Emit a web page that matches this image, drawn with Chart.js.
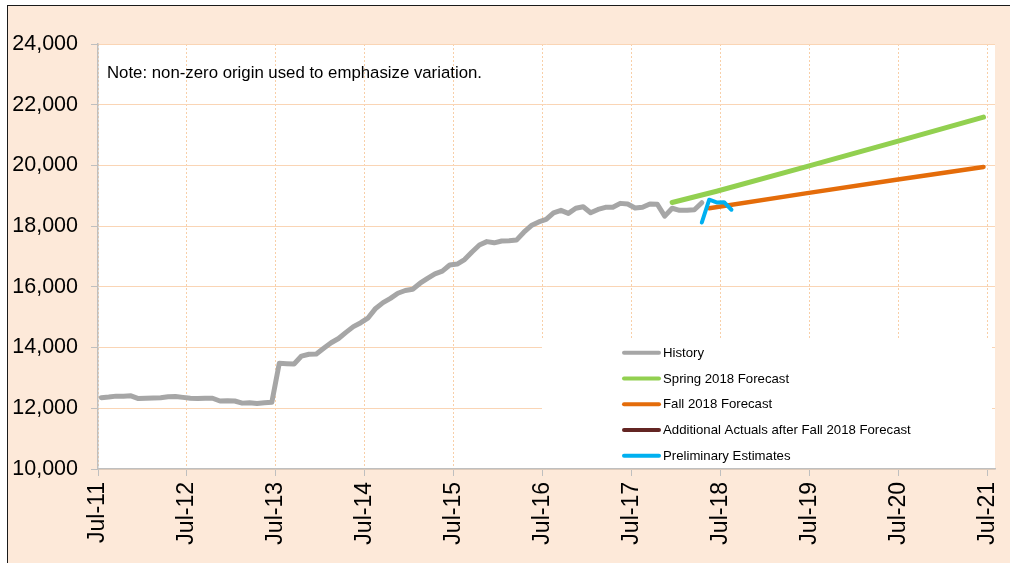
<!DOCTYPE html>
<html><head><meta charset="utf-8">
<script src="https://cdn.jsdelivr.net/npm/chart.js@4.4.1/dist/chart.umd.min.js"></script>
<style>
html,body{margin:0;padding:0;background:#fff;width:1010px;height:563px;overflow:hidden;}
#bg{position:absolute;left:7px;top:5px;width:1100px;height:700px;background:#FDE9D9;border-left:1px solid #1a1a1a;border-top:1px solid #1a1a1a;}
#c{position:absolute;left:0;top:0;}
</style></head><body>
<div id="bg"></div>
<canvas id="c" width="1010" height="563"></canvas>
<script>
// ---- data (months counted from Jul-11 = 0) ----
const xTickMonths = [0, 12, 24, 36, 48, 60, 72, 84, 96, 108, 120];
const xTickLabels = ['Jul-11','Jul-12','Jul-13','Jul-14','Jul-15','Jul-16','Jul-17','Jul-18','Jul-19','Jul-20','Jul-21'];
const yMin = 10000, yMax = 24000, yStep = 2000;

const historyStartMonth = 0;
const historyValues = [
  12350,12370,12400,12400,12410,12320,12330,12340,12350,12380,12390,12360,
  12330,12320,12330,12330,12240,12250,12240,12170,12180,12160,12180,12200,
  13480,13470,13460,13720,13780,13790,13980,14160,14300,14500,14690,14820,
  14980,15290,15480,15620,15790,15880,15920,16120,16280,16430,16520,16720,
  16750,16900,17150,17380,17490,17450,17510,17520,17540,17800,18020,18140,
  18220,18440,18520,18420,18590,18640,18440,18550,18620,18620,18750,18730,
  18600,18620,18730,18720,18330,18590,18520,18520,18540,18770
];
const springMonths = [77, 83, 95, 107, 119];
const springValues = [18780, 19150, 19950, 20770, 21590];
const fallMonths = [82, 95, 107, 119];
const fallValues = [18590, 19080, 19520, 19950];
const additionalMonths = [];
const additionalValues = [];
const prelimMonths = [81, 82, 83, 84, 85];
const prelimValues = [18120, 18870, 18780, 18790, 18540];

const seriesLabels = ['History','Spring 2018 Forecast','Fall 2018 Forecast','Additional Actuals after Fall 2018 Forecast','Preliminary Estimates'];
const seriesColors = ['#A6A6A6','#92D050','#E46C0A','#632523','#00B0F0'];
const noteText = 'Note: non-zero origin used to emphasize variation.';

// monthly observations are placed mid-month on the date axis
const MID = 0.45;
const pts = (months, values) => months.map((m, i) => ({x: m + MID, y: values[i]}));
const historyMonths = historyValues.map((_, i) => historyStartMonth + i);

const FONT = "'Liberation Sans', Arial, sans-serif";

const bgPlugin = {
  id: 'bgPlugin',
  beforeDraw(chart) {
    const {ctx, chartArea: a} = chart;
    ctx.save();
    ctx.fillStyle = '#ffffff';
    ctx.fillRect(a.left, a.top, a.right - a.left, a.bottom - a.top);
    ctx.restore();
  },
  beforeDatasetsDraw(chart) {
    const ctx = chart.ctx;
    ctx.save();
    // legend box
    ctx.fillStyle = '#ffffff';
    ctx.fillRect(542, 340, 450, 127);
    chart.data.datasets.forEach((ds, i) => {
      const y = 352.7 + i * 25.75;
      ctx.strokeStyle = ds.borderColor;
      ctx.lineWidth = 4;
      ctx.lineCap = 'round';
      ctx.beginPath();
      ctx.moveTo(624, y);
      ctx.lineTo(659, y);
      ctx.stroke();
      ctx.fillStyle = '#000';
      ctx.font = '13.2px ' + FONT;
      ctx.textBaseline = 'middle';
      ctx.textAlign = 'left';
      ctx.fillText(ds.label, 663, y + 0.5);
    });
    // note
    ctx.fillStyle = '#000';
    ctx.font = '16.8px ' + FONT;
    ctx.textBaseline = 'middle';
    ctx.fillText(noteText, 107, 73);
    ctx.restore();
  }
};

const mk = (i, data, width, order) => ({
  label: seriesLabels[i], data, borderColor: seriesColors[i], backgroundColor: seriesColors[i],
  borderWidth: width, pointRadius: 0, tension: 0, fill: false,
  borderCapStyle: 'round', borderJoinStyle: 'round', order
});

new Chart(document.getElementById('c'), {
  type: 'line',
  data: {
    datasets: [
      mk(0, pts(historyMonths, historyValues), 5, 1),
      mk(1, pts(springMonths, springValues), 5, 1),
      mk(2, pts(fallMonths, fallValues), 4.5, 1),
      mk(3, pts(additionalMonths, additionalValues), 4.5, 1),
      mk(4, pts(prelimMonths, prelimValues), 4, 0)
    ]
  },
  options: {
    responsive: false,
    devicePixelRatio: 1,
    animation: false,
    layout: {padding: {left: 0, top: 44, right: 15, bottom: 0}},
    plugins: {legend: {display: false}, tooltip: {enabled: false}},
    scales: {
      x: {
        type: 'linear', min: 0, max: 121,
        afterBuildTicks: s => { s.ticks = xTickMonths.map(v => ({value: v})); },
        afterFit: s => { s.height = 94; s.paddingLeft = 0; s.paddingRight = 0; },
        grid: {color: '#F8CFA8', lineWidth: 1, tickColor: '#BFBFBF', tickLength: 7, drawOnChartArea: true},
        border: {color: '#BFBFBF', width: 1.5, dash: [2, 2]},
        ticks: {
          autoSkip: false, minRotation: 90, maxRotation: 90, padding: 6, color: '#000',
          font: {family: FONT, size: 23},
          callback: v => xTickLabels[xTickMonths.indexOf(v)] ?? ''
        }
      },
      y: {
        type: 'linear', min: yMin, max: yMax,
        afterFit: s => { s.width = 98; s.paddingTop = 0; s.paddingBottom = 0; },
        grid: {color: '#FAD5B5', lineWidth: 1, tickColor: '#BFBFBF', tickLength: 7},
        border: {color: '#BFBFBF', width: 1.5},
        ticks: {
          stepSize: yStep, padding: 13, color: '#000',
          font: {family: FONT, size: 21.5},
          callback: v => v.toLocaleString('en-US')
        }
      }
    }
  },
  plugins: [bgPlugin]
});
</script>
</body></html>
